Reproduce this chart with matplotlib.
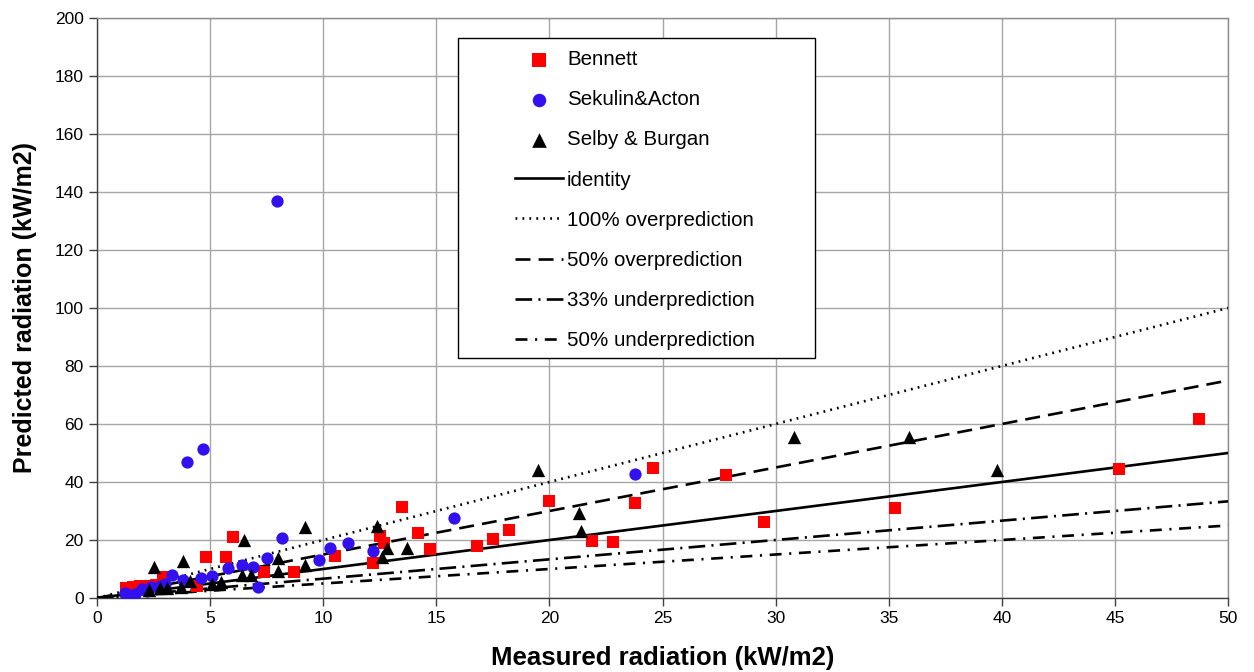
import matplotlib
matplotlib.use("Agg")
import matplotlib.pyplot as plt
from matplotlib.patches import Rectangle
import numpy as np

plt.rcParams['font.family'] = ['Liberation Sans', 'DejaVu Sans']
plt.rcParams['lines.scale_dashes'] = False

# Bennett
bennett_x = [1.3, 1.6, 1.9, 2.2, 2.6, 2.9, 4.4, 4.8, 5.7, 6.0, 7.4, 8.7, 10.5, 12.2, 12.5, 12.7,
             13.5, 14.2, 14.7, 16.8, 17.5, 18.2, 20.0, 21.9, 22.8, 23.8, 24.6, 27.8, 29.5, 35.3,
             45.2, 48.7]
bennett_y = [3.5, 3.8, 4.0, 4.0, 4.5, 7.2, 4.0, 14.0, 14.0, 21.0, 9.0, 9.0, 14.5, 12.0, 21.4, 19.0,
             31.4, 22.3, 16.9, 17.9, 20.3, 23.4, 33.4, 19.6, 19.3, 32.7, 44.9, 42.3, 26.2, 31.1,
             44.4, 61.6]

# Sekulin & Acton
sekulin_x = [1.24, 1.5, 1.7, 2.0, 2.2, 2.4, 2.8, 3.0, 3.3, 3.8, 4.0, 4.6, 4.7, 5.1, 5.8, 6.4,
             6.9, 7.1, 7.5, 7.96, 8.2, 9.8, 10.3, 11.1, 12.2, 15.8, 23.8]
sekulin_y = [1.7, 1.0, 1.5, 3.0, 2.5, 3.8, 4.0, 5.0, 7.9, 6.2, 46.9, 6.9, 51.4, 7.6, 10.3, 11.4,
             10.7, 3.8, 13.8, 136.9, 20.7, 13.1, 17.2, 18.9, 16.2, 27.5, 42.7]

# Selby & Burgan
selby_x = [2.3, 2.5, 2.8, 3.1, 3.7, 3.8, 4.1, 5.1, 5.5, 6.4, 6.5, 6.8, 8.0, 8.0, 9.2, 9.2,
           12.4, 12.6, 12.8, 13.7, 19.5, 21.3, 21.4, 30.8, 35.9, 39.8]
selby_y = [2.8, 10.8, 3.4, 3.4, 3.7, 12.7, 5.9, 4.7, 5.6, 7.9, 20.0, 7.9, 13.8, 9.3, 11.4, 24.5,
           24.8, 14.2, 17.2, 17.2, 44.1, 29.3, 23.2, 55.6, 55.6, 44.1]

line_x = [0, 50]
ratios = [1.0, 2.0, 1.5, 2.0 / 3.0, 0.5]
line_labels = ["identity", "100% overprediction", "50% overprediction",
               "33% underprediction", "50% underprediction"]

W, H = 1254, 672
fig = plt.figure(figsize=(W / 100, H / 100), dpi=100)
ax = fig.add_axes([97 / W, 1 - 598 / H, (1228 - 97) / W, (598 - 18) / H])

ax.scatter(bennett_x, bennett_y, marker='s', s=80, color='#ff0000', label='Bennett', zorder=5,
           linewidths=0)
ax.scatter(sekulin_x, sekulin_y, marker='o', s=78, color='#3311ee', label='Sekulin&Acton', zorder=5,
           linewidths=0)
ax.scatter(selby_x, selby_y, marker='^', s=92, color='black', label='Selby & Burgan', zorder=5,
           linewidths=0)

styles = [
    dict(linestyle='-'),
    dict(linestyle=(0, (1.3, 3.7))),
    dict(linestyle=(0, (10.8, 5.8))),
    dict(linestyle=(0, (12, 4.5, 1.5, 4.5))),
    dict(linestyle=(0, (8.6, 5.5, 1.5, 5.5))),
]
for r, lab, st in zip(ratios, line_labels, styles):
    ax.plot(line_x, [v * r for v in line_x], color='black', lw=1.9, label=lab, zorder=4, **st)

ax.set_xlim(0, 50)
ax.set_ylim(0, 200)
ax.set_xticks(np.arange(0, 51, 5))
ax.set_yticks(np.arange(0, 201, 20))
ax.grid(True, color='#a6a6a6', lw=1.0)
ax.set_axisbelow(True)
for name, sp in ax.spines.items():
    sp.set_linewidth(1.0)
    sp.set_color('#404040' if name in ('left', 'bottom') else '#8c8c8c')
ax.tick_params(axis='both', labelsize=12.5, color='#404040', length=6, width=1)

ax.set_xlabel('Measured radiation (kW/m2)', fontsize=18.5, fontweight='bold', labelpad=14)
ax.set_ylabel('Predicted radiation (kW/m2)', fontsize=18, fontweight='bold', labelpad=13)

# legend frame drawn in figure pixel coordinates
frame = Rectangle((458 / W, 1 - 358 / H), (815 - 458) / W, (358 - 38) / H,
                  transform=fig.transFigure, facecolor='white', edgecolor='black',
                  lw=1.0, zorder=10, clip_on=False)
ax.add_patch(frame)
leg = ax.legend(loc='upper left', bbox_to_anchor=(515 / W, 1 - 50 / H),
                bbox_transform=fig.transFigure,
                fontsize=14.8, frameon=False,
                handlelength=2.33, handletextpad=0.2, labelspacing=1.03, borderpad=0,
                borderaxespad=0, scatterpoints=1, markerscale=1.1)
leg.set_zorder(11)

fig.savefig('out.png', dpi=100)
